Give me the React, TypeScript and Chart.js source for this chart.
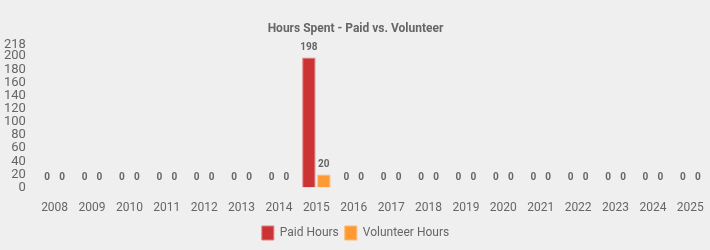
import React, { useEffect, useRef } from "react";
import { Chart, registerables } from "chart.js";

Chart.register(...registerables);

const years = ["2008","2009","2010","2011","2012","2013","2014","2015","2016","2017","2018","2019","2020","2021","2022","2023","2024","2025"];
const paidHours = [0,0,0,0,0,0,0,198,0,0,0,0,0,0,0,0,0,0];
const volunteerHours = [0,0,0,0,0,0,0,20,0,0,0,0,0,0,0,0,0,0];
const yTicks = [0,20,40,60,80,100,120,140,160,180,200,218];

const bgPlugin = {
  id: "bg",
  beforeDraw(chart: any) {
    const { ctx, width, height } = chart;
    ctx.save();
    ctx.fillStyle = "#efefef";
    ctx.fillRect(0, 0, width, height);
    ctx.restore();
  },
};

const labelPlugin = {
  id: "valueLabels",
  afterDatasetsDraw(chart: any) {
    const { ctx } = chart;
    ctx.save();
    ctx.font = "bold 10px Roboto";
    ctx.fillStyle = "#666666";
    ctx.textAlign = "center";
    ctx.textBaseline = "bottom";
    chart.data.datasets.forEach((ds: any, i: number) => {
      const meta = chart.getDatasetMeta(i);
      meta.data.forEach((el: any, j: number) => {
        ctx.fillText(String(ds.data[j]), el.x, el.y - 5);
      });
    });
    ctx.restore();
  },
};

export default function App() {
  const ref = useRef<HTMLCanvasElement>(null);
  useEffect(() => {
    document.body.style.margin = "0";
    const chart = new Chart(ref.current!, {
      type: "bar",
      data: {
        labels: years,
        datasets: [
          { label: "Paid Hours", data: paidHours, backgroundColor: "#cc3333", borderColor: "#e08080", borderWidth: 1 },
          { label: "Volunteer Hours", data: volunteerHours, backgroundColor: "#ff9933", borderColor: "#ffb870", borderWidth: 1 },
        ],
      },
      options: {
        animation: false,
        responsive: false,
        maintainAspectRatio: false,
        layout: { padding: { top: 8, right: 1, left: 2, bottom: 0 } },
        categoryPercentage: 0.8,
        barPercentage: 0.9,
        plugins: {
          title: {
            display: true,
            text: "Hours Spent - Paid vs. Volunteer",
            color: "#666666",
            font: { family: "Roboto", size: 12, weight: "bold" },
            padding: { top: 14, bottom: 8 },
          },
          legend: {
            position: "bottom",
            labels: { color: "#666666", font: { family: "Roboto", size: 12 }, boxWidth: 12, boxHeight: 14, padding: 6 },
          },
          tooltip: { enabled: false },
        },
        scales: {
          x: {
            grid: { display: false },
            border: { display: false },
            ticks: { color: "#666666", font: { family: "Roboto", size: 12 }, padding: 5 },
          },
          y: {
            min: 0,
            max: 218,
            grid: { display: false },
            border: { display: false },
            ticks: { color: "#666666", font: { family: "Roboto", size: 13 }, padding: 2, autoSkip: false },
            afterBuildTicks: (axis: any) => {
              axis.ticks = yTicks.map((v) => ({ value: v }));
            },
          },
        },
      } as any,
      plugins: [bgPlugin, labelPlugin],
    });
    return () => chart.destroy();
  }, []);
  return (
    <div style={{ width: 710, height: 250 }}>
      <canvas ref={ref} width={710} height={250} />
    </div>
  );
}
